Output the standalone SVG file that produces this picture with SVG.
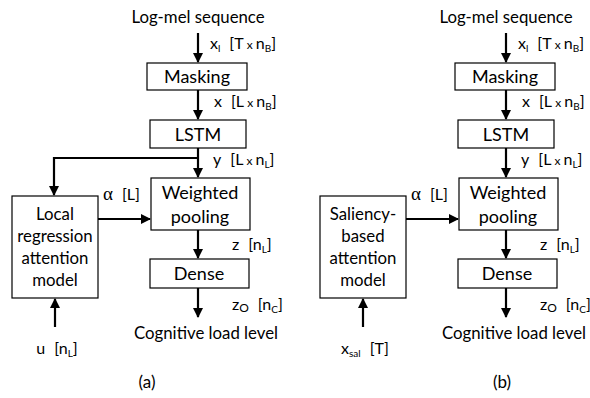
<svg xmlns="http://www.w3.org/2000/svg" width="590" height="398" viewBox="0 0 590 398">
  <defs>
    <marker id="ah" markerWidth="10" markerHeight="10" refX="9" refY="5" orient="auto" markerUnits="userSpaceOnUse">
      <path d="M0,0 L10,5 L0,10 Z" fill="#000"/>
    </marker>
    <style>
      .box { fill: #fff; stroke: #000; stroke-width: 1.2; }
      .arr { fill: none; stroke: #000; stroke-width: 2.2; marker-end: url(#ah); }
      .bt { font-family: Lato, "Open Sans", sans-serif; font-size: 18px; text-anchor: middle; fill: #000; }
      .mt { font-family: Lato, "Open Sans", sans-serif; font-size: 16.8px; text-anchor: middle; fill: #000; }
      .lb { font-family: Lato, "Open Sans", sans-serif; font-size: 16px; fill: #000; }
      .sm { font-size: 12px; }
      .sub { font-size: 10px; }
      .gk { font-family: "Liberation Serif", serif; font-size: 19px; }
    </style>
  </defs>

  <!-- panel (a) -->
  <g id="panel-a">
    <g id="a-connectors">
      <line class="arr" x1="198" y1="33" x2="198" y2="62"/>
      <line class="arr" x1="198" y1="90" x2="198" y2="119"/>
      <line class="arr" x1="198" y1="148" x2="198" y2="177"/>
      <polyline class="arr" points="198,158 54,158 54,195"/>
      <line class="arr" x1="98" y1="219" x2="150" y2="219"/>
      <line class="arr" x1="198" y1="230" x2="198" y2="258"/>
      <line class="arr" x1="198" y1="288" x2="198" y2="317"/>
      <line class="arr" x1="55" y1="327" x2="55" y2="299"/>
    </g>
    <g id="a-input"><text class="mt" x="198" y="23">Log-mel sequence</text></g>
    <text class="lb" x="210" y="49">x<tspan class="sub" dy="3">l</tspan><tspan dy="-3" dx="9">[T</tspan><tspan class="sm"> x </tspan>n<tspan class="sub" dy="3">B</tspan><tspan dy="-3">]</tspan></text>
    <g id="a-masking">
      <rect class="box" x="147" y="63" width="100" height="27"/>
      <text class="bt" x="197" y="83">Masking</text>
    </g>
    <text class="lb" x="214" y="107">x<tspan dx="9">[L</tspan><tspan class="sm"> x </tspan>n<tspan class="sub" dy="3">B</tspan><tspan dy="-3">]</tspan></text>
    <g id="a-lstm">
      <rect class="box" x="150" y="120" width="96" height="28"/>
      <text class="bt" x="198" y="141">LSTM</text>
    </g>
    <text class="lb" x="213" y="165">y<tspan dx="9">[L</tspan><tspan class="sm"> x </tspan>n<tspan class="sub" dy="3">L</tspan><tspan dy="-3">]</tspan></text>
    <g id="a-pooling">
      <rect class="box" x="151" y="178" width="99" height="52"/>
      <text class="bt" x="200" y="199">Weighted</text>
      <text class="bt" x="200" y="223">pooling</text>
    </g>
    <g id="a-attention">
      <rect class="box" x="12" y="196" width="86" height="102"/>
      <text class="mt" x="55" y="220">Local</text>
      <text class="mt" x="55" y="242">regression</text>
      <text class="mt" x="55" y="264">attention</text>
      <text class="mt" x="55" y="286">model</text>
    </g>
    <text class="lb" x="103" y="200"><tspan class="gk">α</tspan><tspan dx="9">[L]</tspan></text>
    <text class="lb" x="232" y="250">z<tspan dx="9">[n</tspan><tspan class="sub" dy="3">L</tspan><tspan dy="-3">]</tspan></text>
    <g id="a-dense">
      <rect class="box" x="150" y="259" width="99" height="29"/>
      <text class="bt" x="199" y="280">Dense</text>
    </g>
    <text class="lb" x="232" y="310">z<tspan class="sm" dy="2">O</tspan><tspan dy="-2" dx="9">[n</tspan><tspan class="sub" dy="3">C</tspan><tspan dy="-3">]</tspan></text>
    <g id="a-output"><text class="mt" x="206" y="339">Cognitive load level</text></g>
    <text class="lb" x="57" y="354" text-anchor="middle">u<tspan dx="9">[n</tspan><tspan class="sub" dy="3">L</tspan><tspan dy="-3">]</tspan></text>
    <text class="lb" x="147" y="388" text-anchor="middle" style="font-size:17px">(a)</text>
  </g>

  <!-- panel (b) -->
  <g id="panel-b" transform="translate(308,0)">
    <g id="b-connectors">
      <line class="arr" x1="198" y1="33" x2="198" y2="62"/>
      <line class="arr" x1="198" y1="90" x2="198" y2="119"/>
      <line class="arr" x1="198" y1="148" x2="198" y2="177"/>
      <line class="arr" x1="98" y1="219" x2="150" y2="219"/>
      <line class="arr" x1="198" y1="230" x2="198" y2="258"/>
      <line class="arr" x1="198" y1="288" x2="198" y2="317"/>
      <line class="arr" x1="55" y1="327" x2="55" y2="299"/>
    </g>
    <g id="b-input"><text class="mt" x="198" y="23">Log-mel sequence</text></g>
    <text class="lb" x="210" y="49">x<tspan class="sub" dy="3">l</tspan><tspan dy="-3" dx="9">[T</tspan><tspan class="sm"> x </tspan>n<tspan class="sub" dy="3">B</tspan><tspan dy="-3">]</tspan></text>
    <g id="b-masking">
      <rect class="box" x="147" y="63" width="100" height="27"/>
      <text class="bt" x="197" y="83">Masking</text>
    </g>
    <text class="lb" x="214" y="107">x<tspan dx="9">[L</tspan><tspan class="sm"> x </tspan>n<tspan class="sub" dy="3">B</tspan><tspan dy="-3">]</tspan></text>
    <g id="b-lstm">
      <rect class="box" x="150" y="120" width="96" height="28"/>
      <text class="bt" x="198" y="141">LSTM</text>
    </g>
    <text class="lb" x="213" y="165">y<tspan dx="9">[L</tspan><tspan class="sm"> x </tspan>n<tspan class="sub" dy="3">L</tspan><tspan dy="-3">]</tspan></text>
    <g id="b-pooling">
      <rect class="box" x="151" y="178" width="99" height="52"/>
      <text class="bt" x="200" y="199">Weighted</text>
      <text class="bt" x="200" y="223">pooling</text>
    </g>
    <g id="b-attention">
      <rect class="box" x="12" y="196" width="86" height="102"/>
      <text class="mt" x="55" y="220">Saliency-</text>
      <text class="mt" x="55" y="242">based</text>
      <text class="mt" x="55" y="264">attention</text>
      <text class="mt" x="55" y="286">model</text>
    </g>
    <text class="lb" x="103" y="200"><tspan class="gk">α</tspan><tspan dx="9">[L]</tspan></text>
    <text class="lb" x="232" y="250">z<tspan dx="9">[n</tspan><tspan class="sub" dy="3">L</tspan><tspan dy="-3">]</tspan></text>
    <g id="b-dense">
      <rect class="box" x="150" y="259" width="99" height="29"/>
      <text class="bt" x="199" y="280">Dense</text>
    </g>
    <text class="lb" x="232" y="310">z<tspan class="sm" dy="2">O</tspan><tspan dy="-2" dx="9">[n</tspan><tspan class="sub" dy="3">C</tspan><tspan dy="-3">]</tspan></text>
    <g id="b-output"><text class="mt" x="206" y="339">Cognitive load level</text></g>
    <text class="lb" x="57" y="354" text-anchor="middle">x<tspan class="sub" dy="3">sal</tspan><tspan dy="-3" dx="9">[T]</tspan></text>
    <text class="lb" x="194" y="388" text-anchor="middle" style="font-size:17px">(b)</text>
  </g>
</svg>
